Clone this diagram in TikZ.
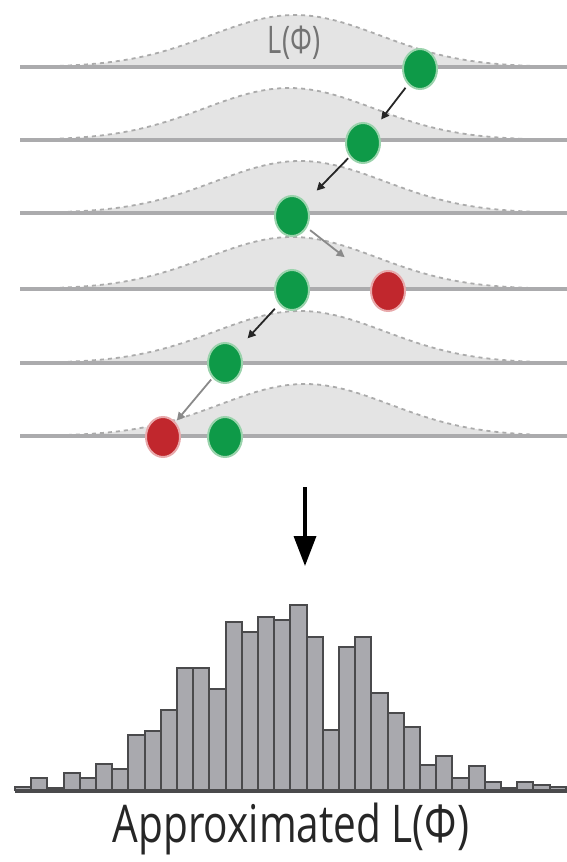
\documentclass[tikz,border=0pt]{standalone}
\usepackage{fontspec}
\setmainfont{Open Sans}
\usetikzlibrary{arrows.meta}
\definecolor{rowline}{HTML}{ABABAD}
\definecolor{curvefill}{HTML}{E4E4E4}
\definecolor{curvedash}{HTML}{ABABAB}
\definecolor{dotgreen}{HTML}{0E9A48}
\definecolor{halogreen}{HTML}{9AD3AC}
\definecolor{dotred}{HTML}{C1272D}
\definecolor{halored}{HTML}{E8A9AB}
\definecolor{barfill}{HTML}{A9A9AE}
\definecolor{baredge}{HTML}{4A4A4C}
\definecolor{movegray}{HTML}{8A8A8A}
\tikzset{
  rowbase/.style={rowline,line width=4pt},
  bell/.style={fill=curvefill},
  belledge/.style={curvedash,line width=1.8pt,dash pattern=on 4pt off 4pt},
  gdot/.style={ellipse,minimum width=34pt,minimum height=40pt,inner sep=0pt,fill=dotgreen,draw=halogreen,line width=2pt},
  rdot/.style={ellipse,minimum width=34pt,minimum height=40pt,inner sep=0pt,fill=dotred,draw=halored,line width=2pt},
  accept/.style={black!85,line width=1.8pt,-{Triangle[width=8pt,length=8pt]}},
  reject/.style={movegray,line width=1.8pt,-{Triangle[width=8pt,length=8pt]}},
  histbar/.style={fill=barfill,draw=baredge,line width=2pt},
}
\usetikzlibrary{shapes.geometric}
\begin{document}
\begin{tikzpicture}[x=1pt,y=-1pt]
\useasboundingbox (0,0) rectangle (567,862);
% bell curves and row lines
\foreach \L/\P in {67/295,140/289,213/300,289/292,363/300,436/305}{
  \fill[bell] plot[domain=60:530,samples=90] (\x,{\L-52*exp(-0.5*((\x-\P)/85)^2)}) -- cycle;
  \draw[belledge] plot[domain=60:530,samples=90] (\x,{\L-52*exp(-0.5*((\x-\P)/85)^2)});
  \draw[rowbase] (20,\L) -- (567,\L);
}
\node[text=black!55,font=\fontsize{38}{38}\selectfont,xscale=0.72] (lab) at (294,43) {L(Φ)};
% dots
\node[gdot] (g1) at (420,69) {};
\node[gdot] (g2) at (363,143) {};
\node[gdot] (g3) at (292,216) {};
\node[gdot] (g4) at (292,290) {};
\node[rdot] (r4) at (388,291) {};
\node[gdot] (g5) at (225,363) {};
\node[rdot] (r6) at (163,437) {};
\node[gdot] (g6) at (225,437) {};
% moves
\draw[accept,shorten <=4pt,shorten >=10pt] (g1) -- (g2);
\draw[accept,shorten <=2pt,shorten >=16pt] (g2) -- (g3);
\draw[reject,shorten <=4pt,shorten >=36pt] (g3) -- (r4);
\draw[accept,shorten <=6pt,shorten >=14pt] (g4) -- (g5);
\draw[reject,shorten <=2pt,shorten >=2pt] (g5) -- (r6);
% main arrow
\coordinate (atop) at (305,487);
\coordinate (abot) at (305,566);
\draw[black,line width=3.5pt,-{Triangle[width=22pt,length=30pt]}] (atop) -- (abot);
% histogram
\foreach \h [count=\i from 0] in {3,12,2,17,12,26,21,55,59,80,122,122,101,168,158,173,170,185,153,60,143,153,97,77,63,25,34,12,24,8,2,8,5,3}{
  \pgfmathsetmacro{\xa}{15+16.2*\i}
  \ifnum\h>0
  \draw[histbar] (\xa,790) rectangle ++(16.2,-\h);
  \fi
}
\draw[baredge,line width=3pt] (15,791) -- (567,791);
\node[font=\fontsize{52}{52}\selectfont,xscale=0.78,text=black!85] (cap) at (291,829) {Approximated L(Φ)};
\end{tikzpicture}
\end{document}
